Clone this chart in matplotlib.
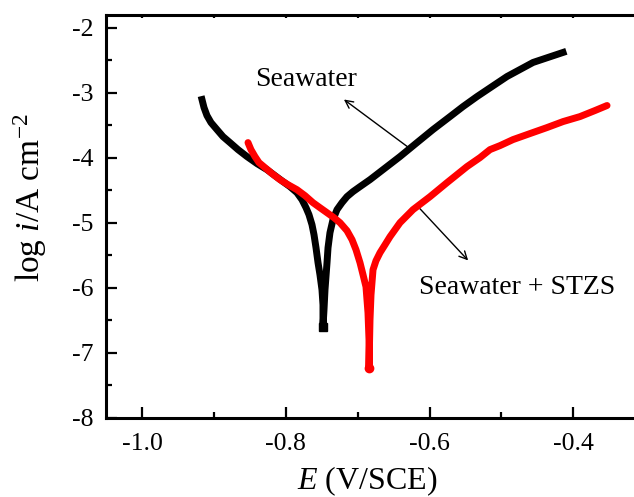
import matplotlib
matplotlib.use("Agg")
import matplotlib.pyplot as plt
from matplotlib.ticker import MultipleLocator, FixedLocator

plt.rcParams['font.family'] = ['Liberation Serif', 'DejaVu Serif']
plt.rcParams['mathtext.fontset'] = 'custom'
plt.rcParams['mathtext.rm'] = 'Liberation Serif'
plt.rcParams['mathtext.it'] = 'Liberation Serif:italic'

# Seawater (black): E (V/SCE), log i
sw_E = [-0.9165, -0.9137, -0.9096, -0.9040, -0.8957, -0.8873, -0.8776, -0.8664,
        -0.8539, -0.8400, -0.8261, -0.8150, -0.8038, -0.7941, -0.7844, -0.7774,
        -0.7718, -0.7677, -0.7635, -0.7607, -0.7579, -0.7551, -0.7524, -0.7496,
        -0.7482, -0.7482,
        -0.7468, -0.7454, -0.7426, -0.7412, -0.7385, -0.7343, -0.7287, -0.7218,
        -0.7148, -0.7065, -0.6967, -0.6828, -0.6647, -0.6411, -0.6174, -0.5952,
        -0.5715, -0.5534, -0.5339, -0.5131, -0.4922, -0.4741, -0.4560, -0.4352,
        -0.4143]
sw_logi = [-3.104, -3.227, -3.350, -3.458, -3.566, -3.674, -3.766, -3.874,
           -3.981, -4.089, -4.182, -4.274, -4.366, -4.443, -4.536, -4.644,
           -4.767, -4.874, -5.028, -5.182, -5.383, -5.613, -5.798, -6.029,
           -6.260, -6.599,
           -6.337, -6.029, -5.613, -5.383, -5.152, -4.951, -4.797, -4.690,
           -4.597, -4.520, -4.443, -4.336, -4.182, -3.981, -3.766, -3.566,
           -3.366, -3.212, -3.058, -2.904, -2.750, -2.642, -2.534, -2.457,
           -2.380]

# Seawater + STZS (red)
st_E = [-0.8525, -0.8484, -0.8428, -0.8372, -0.8289, -0.8191, -0.8080, -0.7969,
        -0.7844, -0.7732, -0.7621, -0.7524, -0.7426, -0.7329, -0.7245, -0.7148,
        -0.7078, -0.7023, -0.6967, -0.6925, -0.6884, -0.6870, -0.6856, -0.6842,
        -0.6842,
        -0.6828, -0.6814, -0.6786, -0.6745, -0.6689, -0.6619, -0.6550, -0.6411,
        -0.6230, -0.5993, -0.5757, -0.5479, -0.5298, -0.5159, -0.5019, -0.4839,
        -0.4602, -0.4366, -0.4143, -0.3907, -0.3698, -0.3531]
st_logi = [-3.766, -3.874, -3.981, -4.074, -4.151, -4.243, -4.336, -4.413,
           -4.490, -4.582, -4.690, -4.767, -4.844, -4.921, -4.998, -5.121,
           -5.259, -5.413, -5.613, -5.798, -5.983, -6.183, -6.383, -6.799,
           -7.230,
           -6.491, -6.106, -5.721, -5.583, -5.459, -5.336, -5.213, -4.998,
           -4.797, -4.597, -4.382, -4.135, -3.997, -3.874, -3.812, -3.720,
           -3.627, -3.535, -3.443, -3.366, -3.273, -3.196]

x_ticks = [-1.0, -0.8, -0.6, -0.4]
x_ticklabels = ['-1.0', '-0.8', '-0.6', '-0.4']
y_ticks = [-8, -7, -6, -5, -4, -3, -2]
y_ticklabels = ['-8', '-7', '-6', '-5', '-4', '-3', '-2']

fig = plt.figure(figsize=(6.34, 4.97), dpi=100)
ax = fig.add_axes([0.1672, 0.159, 0.8505, 0.8114])

ax.plot(sw_E, sw_logi, color='black', lw=5.0, solid_capstyle='projecting',
        solid_joinstyle='round', zorder=3)
ax.plot([sw_E[25]], [sw_logi[25]], 's', color='black', ms=6, zorder=3)
ax.plot(st_E, st_logi, color='#ff0000', lw=5.0, solid_capstyle='round',
        solid_joinstyle='round', zorder=4)
ax.plot([st_E[24]], [st_logi[24]], 'o', color='#ff0000', ms=6, zorder=4)

ax.set_xlim(-1.05, -0.30)
ax.set_ylim(-8, -1.8)

ax.xaxis.set_major_locator(FixedLocator(x_ticks))
ax.set_xticklabels(x_ticklabels)
ax.yaxis.set_major_locator(FixedLocator(y_ticks))
ax.set_yticklabels(y_ticklabels)
ax.xaxis.set_minor_locator(MultipleLocator(0.1))
ax.yaxis.set_minor_locator(MultipleLocator(0.5))

ax.tick_params(which='major', direction='in', length=8, width=1.6, labelsize=18.5,
               top=True, right=False)
ax.tick_params(axis='x', which='major', pad=11)
ax.tick_params(axis='y', which='major', pad=9)
ax.tick_params(which='minor', direction='in', length=4, width=1.6, top=True, right=False)
for t in ax.xaxis.get_major_ticks() + ax.xaxis.get_minor_ticks():
    t.tick2line.set_markersize(2)
for sp in ax.spines.values():
    sp.set_linewidth(2.2)

ax.set_xlabel(r'$\it{E}$ (V/SCE)', fontsize=23)
ax.set_ylabel(r'log $\it{i}$/A cm$^{-2}$', fontsize=24)
ax.xaxis.set_label_coords(0.485, -0.116)
ax.yaxis.set_label_coords(-0.106, 0.547)

ax.annotate('', xy=(-0.7222, -3.078), xytext=(-0.6272, -3.858),
            arrowprops=dict(arrowstyle='->', lw=1.0, color='black',
                            mutation_scale=14), zorder=2)
ax.annotate('', xy=(-0.5437, -5.609), xytext=(-0.616, -4.751),
            arrowprops=dict(arrowstyle='->', lw=1.0, color='black',
                            mutation_scale=14), zorder=2)
ax.text(-0.7718, -2.796, 'Seawater', fontsize=20, ha='center', va='center')
ax.text(-0.4776, -5.998, 'Seawater + STZS', fontsize=20, ha='center', va='center')

fig.savefig('out.png', dpi=100)
